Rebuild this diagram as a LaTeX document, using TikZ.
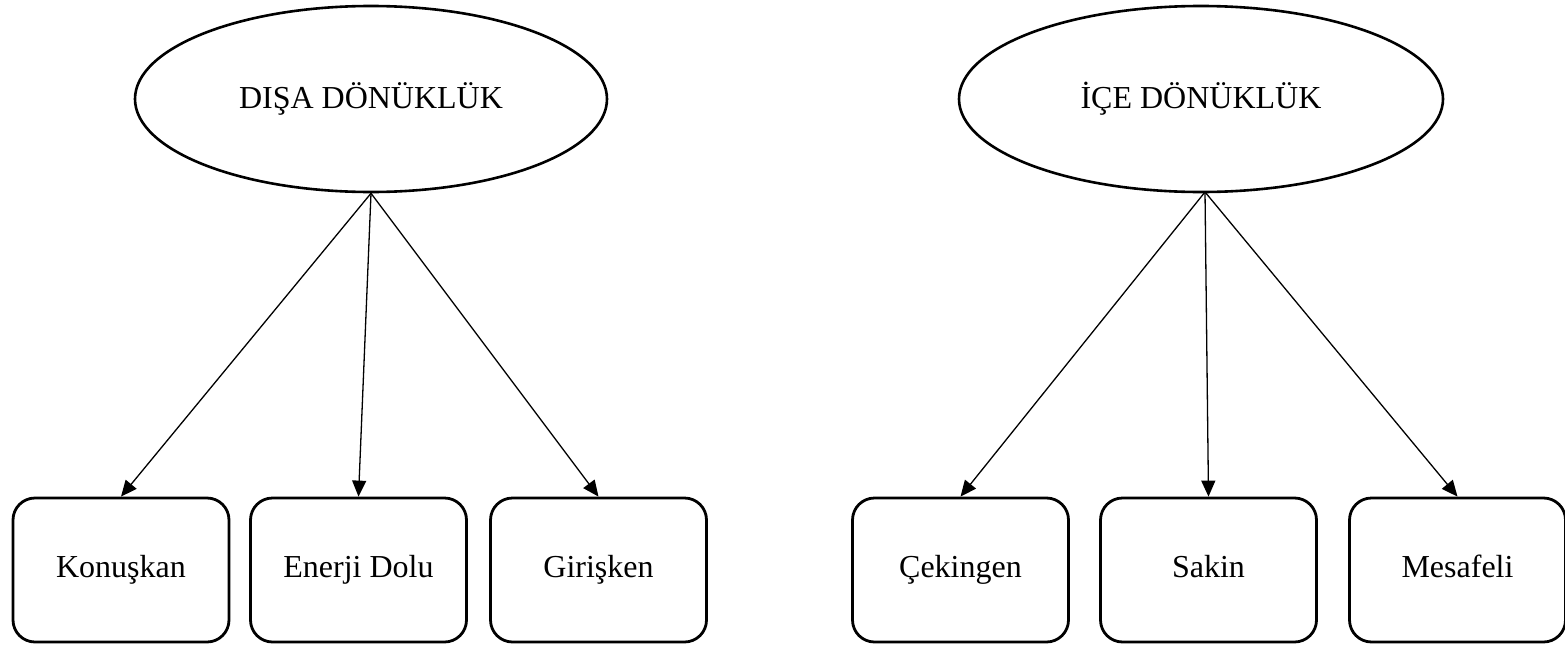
\documentclass[tikz,border=0pt]{standalone}
\usepackage{fontspec}
\setmainfont{Liberation Serif}
\usetikzlibrary{shapes.geometric,arrows.meta}
\begin{document}
\begin{tikzpicture}[x=1pt,y=-1pt,
  trait/.style={ellipse,draw,line width=2.6pt,inner sep=0pt,minimum width=472pt,minimum height=186pt,font=\fontsize{32}{38}\selectfont},
  leaf/.style={rectangle,draw,line width=2.8pt,rounded corners=22pt,minimum width=216pt,minimum height=144pt,inner sep=0pt,text height=22pt,text depth=7pt,font=\fontsize{32}{38}\selectfont},
  link/.style={line width=1.3pt,-{Triangle[length=16pt,width=14pt]}}]
\useasboundingbox (0,0) rectangle (1565,645);
\node[trait] (eL) at (371,99) {DIŞA DÖNÜKLÜK};
\node[trait,minimum width=484pt] (eR) at (1201,99) {İÇE DÖNÜKLÜK};
\node[leaf] (b1) at (121,570) {Konuşkan};
\node[leaf] (b2) at (358.5,570) {Enerji Dolu};
\node[leaf] (b3) at (598.5,570) {Girişken};
\node[leaf] (b4) at (960.5,570) {Çekingen};
\node[leaf] (b5) at (1208.5,570) {Sakin};
\node[leaf] (b6) at (1457.5,570) {Mesafeli};
\coordinate (aR) at (1205,192);
\draw[link] (eL.south) -- (b1.north);
\draw[link] (eL.south) -- (b2.north);
\draw[link] (eL.south) -- (b3.north);
\draw[link] (aR) -- (b4.north);
\draw[link] (aR) -- (b5.north);
\draw[link] (aR) -- (b6.north);
\end{tikzpicture}
\end{document}
